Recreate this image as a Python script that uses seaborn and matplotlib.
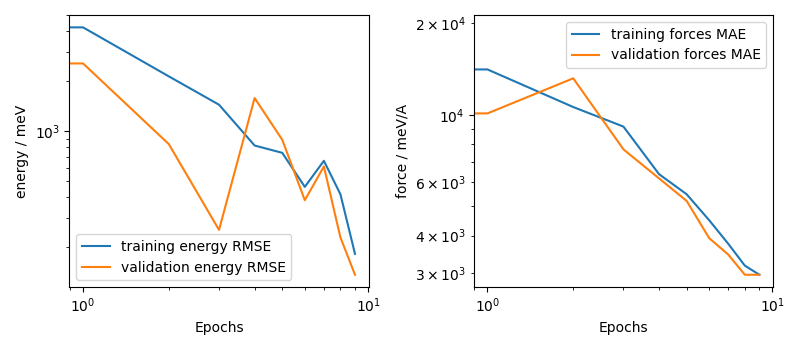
import matplotlib
matplotlib.use("Agg")
import matplotlib.pyplot as plt
import seaborn as sns
import pandas as pd

epochs = [0, 1, 2, 3, 4, 5, 6, 7, 8, 9]
train_energy_rmse = [4000, 4220, 2140, 1445, 821, 742, 463, 664, 418, 183]
valid_energy_rmse = [2500, 2560, 837, 255, 1585, 889, 385, 614, 230, 137]
train_forces_mae = [19400, 14100, 10600, 9140, 6370, 5470, 4490, 3755, 3183, 2970]
valid_forces_mae = [10100, 10100, 13180, 7690, 6170, 5200, 3920, 3460, 2970, 2970]

palette = sns.color_palette("tab10")

fig, axes = plt.subplots(1, 2, figsize=(8, 3.5), dpi=100)

ax = axes[0]
sns.lineplot(x=epochs, y=train_energy_rmse, ax=ax, color=palette[0],
             label="training energy RMSE", estimator=None, sort=False)
sns.lineplot(x=epochs, y=valid_energy_rmse, ax=ax, color=palette[1],
             label="validation energy RMSE", estimator=None, sort=False)
ax.set_xscale("log")
ax.set_yscale("log")
ax.set_xlabel("Epochs")
ax.set_ylabel("energy / meV")
ax.legend(loc="lower left")

ax = axes[1]
sns.lineplot(x=epochs, y=train_forces_mae, ax=ax, color=palette[0],
             label="training forces MAE", estimator=None, sort=False)
sns.lineplot(x=epochs, y=valid_forces_mae, ax=ax, color=palette[1],
             label="validation forces MAE", estimator=None, sort=False)
ax.set_xscale("log")
ax.set_yscale("log")
ax.set_xlabel("Epochs")
ax.set_ylabel("force / meV/A")
ax.legend(loc="upper right")

fig.tight_layout()
fig.savefig("out.png", dpi=100)
